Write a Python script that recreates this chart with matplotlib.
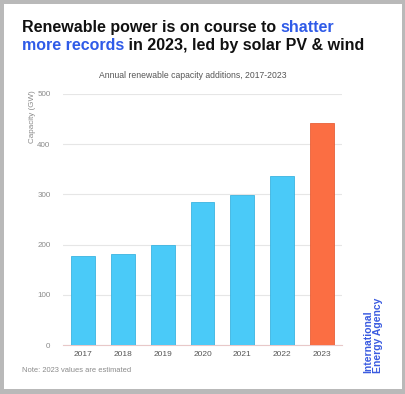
import matplotlib.pyplot as plt
from matplotlib.patches import Rectangle

# Data
years = ['2017', '2018', '2019', '2020', '2021', '2022', '2023']
capacity_gw = [177, 182, 199, 285, 298, 336, 443]
estimated = [False, False, False, False, False, False, True]

blue = '#4acaf8'
orange = '#fb6e43'
title_blue = '#2f5be8'

plt.rcParams['font.family'] = ['Liberation Sans', 'DejaVu Sans']

fig = plt.figure(figsize=(4.06, 3.94), dpi=100)
fig.patch.set_facecolor('#b9b9b9')
fig.patches.append(Rectangle((4/406, 1 - 389/394), 398/406, 385/394,
                             transform=fig.transFigure, facecolor='white',
                             edgecolor='none', zorder=-5))

ax = fig.add_axes([63/406, 1 - 345/394, 279/406, 251/394])
ax.set_zorder(2)
ax.set_facecolor('white')

colors = [orange if e else blue for e in estimated]
edges = ['#e86038' if e else '#3bb4e0' for e in estimated]
ax.bar(range(len(years)), capacity_gw, width=0.6, color=colors, edgecolor=edges,
       linewidth=0.6, zorder=3)
ax.set_xlim(-0.5, 6.5)
ax.set_ylim(0, 500)
ax.set_yticks(range(0, 501, 100))
ax.set_xticks(range(len(years)))
ax.set_xticklabels(years)
ax.grid(axis='y', color='#e6e6e6', linewidth=0.8, zorder=0)
for s in ['top', 'right', 'left']:
    ax.spines[s].set_visible(False)
ax.spines['bottom'].set_color('#e8c8c8')
ax.spines['bottom'].set_linewidth(0.8)
ax.tick_params(axis='y', length=0, labelsize=5.8, labelcolor='#8a8a8a', pad=9)
ax.tick_params(axis='x', length=0, labelsize=6, labelcolor='#555555', pad=4)

fig.text(33/406, 1 - 90/394, 'Capacity (GW)', rotation=90, ha='center', va='top',
         fontsize=5.8, color='#8a8a8a')


# Title with two colours: place pieces one after another
def title_line(parts, y):
    renderer = fig.canvas.get_renderer()
    x = 22/406
    for txt, col in parts:
        t = fig.text(x, y, txt, fontsize=11.5, fontweight='bold', color=col, va='baseline')
        bb = t.get_window_extent(renderer)
        x = bb.x1 / fig.bbox.width


title_line([('Renewable power is on course to ', '#111111'), ('shatter', title_blue)],
           1 - 32/394)
title_line([('more records', title_blue), (' in 2023, led by solar PV & wind', '#111111')],
           1 - 50/394)

fig.text(193/406, 1 - 75/394, 'Annual renewable capacity additions, 2017-2023',
         ha='center', va='center', fontsize=6.2, color='#555555')

fig.text(22/406, 1 - 370/394, 'Note: 2023 values are estimated', ha='left', va='center',
         fontsize=5.4, color='#8a8a8a')

fig.text(373/406, 1 - 373/394, 'International\nEnergy Agency', rotation=90,
         ha='center', va='bottom', fontsize=7.5, fontweight='bold', color='#3a5be0',
         linespacing=0.95, multialignment='left')

plt.savefig('out.png', dpi=100, facecolor=fig.get_facecolor())
